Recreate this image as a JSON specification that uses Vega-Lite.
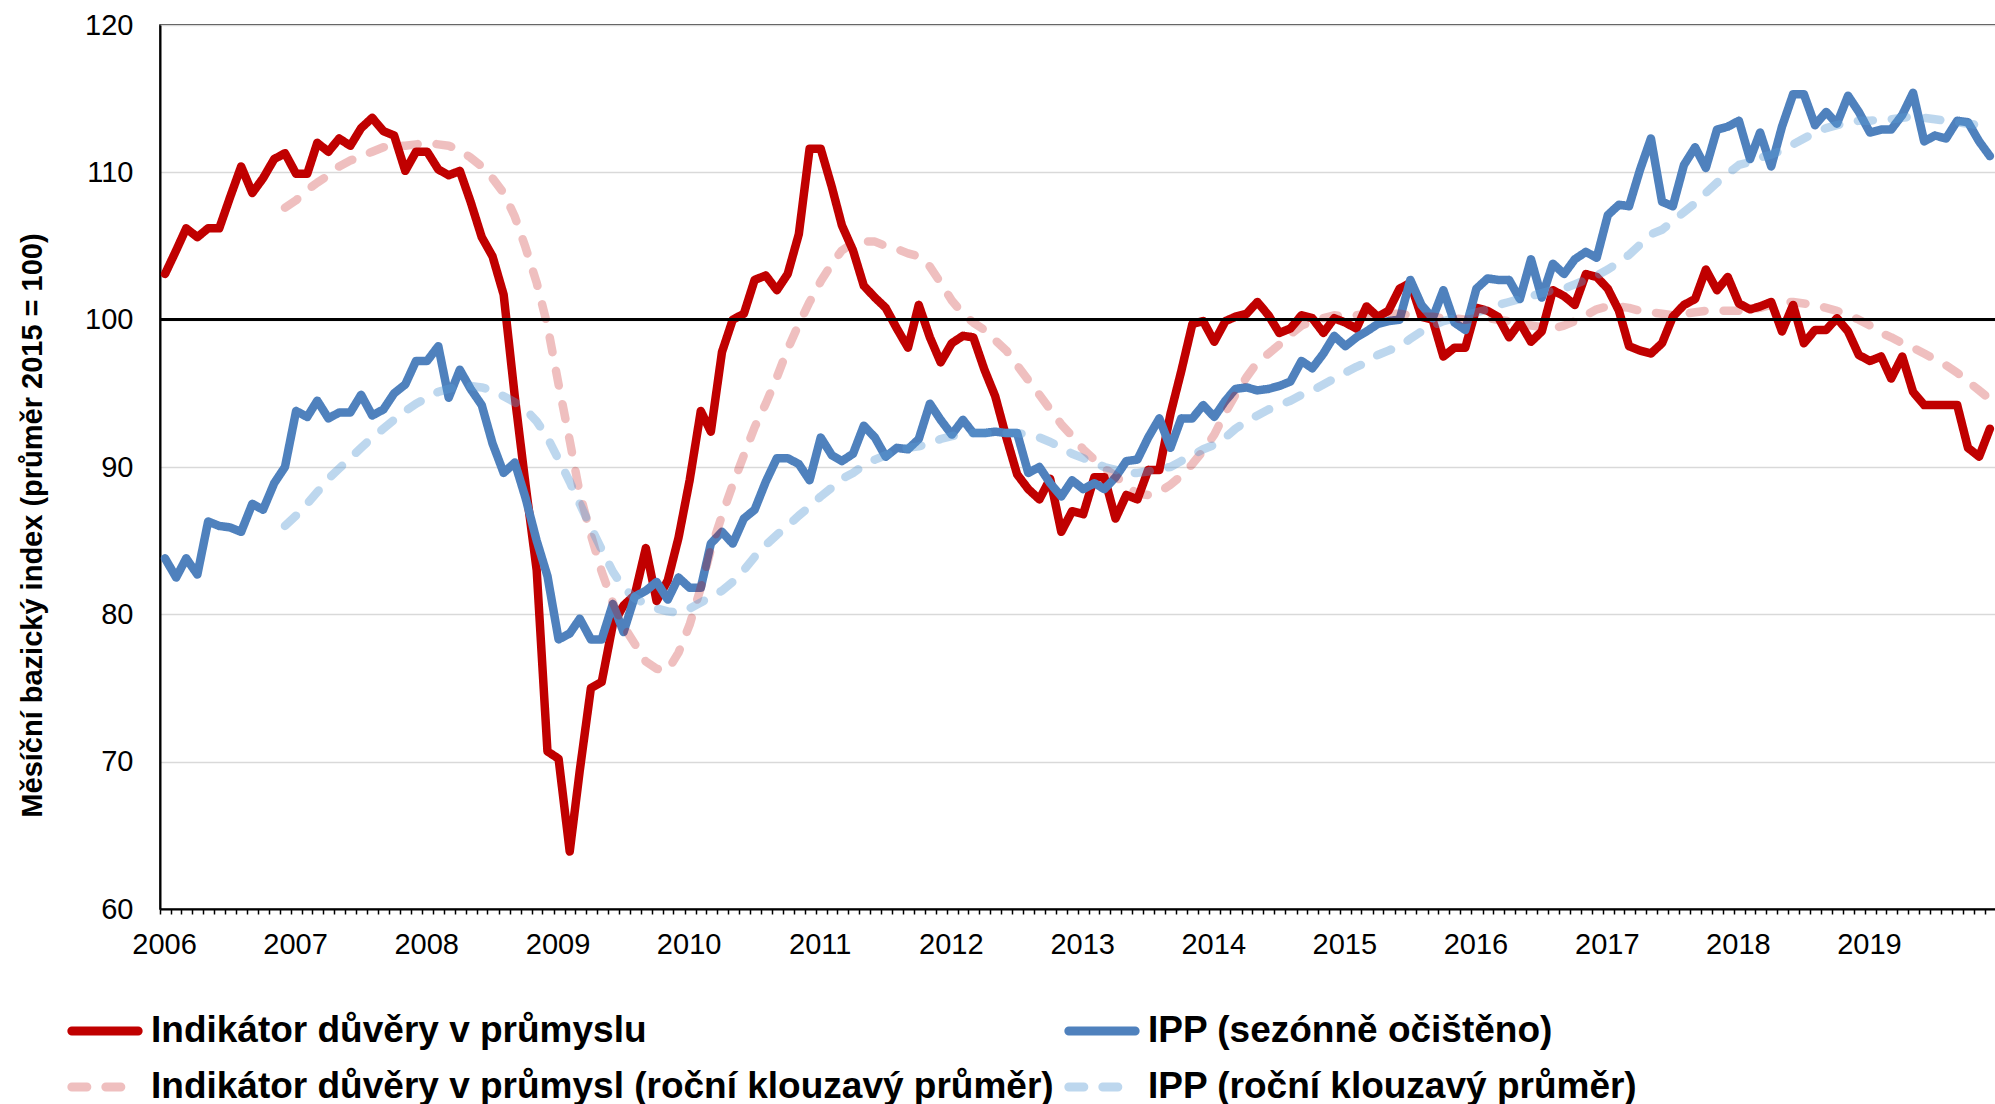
{
"$schema":"https://vega.github.io/schema/vega-lite/v6.json",
"width":1836,"height":884,
"autosize":{"type":"none"},
"padding":{"left":160,"top":25,"right":0,"bottom":195},
"background":"white",
"config":{
 "font":"Liberation Sans",
 "view":{"stroke":"#000","strokeWidth":1.5},
 "legend":{"symbolType":"stroke","symbolSize":4400,"symbolStrokeWidth":9,"labelFontSize":37,"labelFontWeight":"bold","labelFont":"Liberation Sans","labelColor":"#000","labelLimit":2000,"labelOffset":8,"columnPadding":-4,"rowPadding":0,"padding":0,"direction":"horizontal"}
},
"data":{"values":[
{"d":"2006-01-15","s":"A","v":103.1},{"d":"2006-02-15","s":"A","v":104.7},{"d":"2006-03-15","s":"A","v":106.2},{"d":"2006-04-15","s":"A","v":105.6},{"d":"2006-05-15","s":"A","v":106.2},{"d":"2006-06-15","s":"A","v":106.2},{"d":"2006-07-15","s":"A","v":108.3},{"d":"2006-08-15","s":"A","v":110.4},{"d":"2006-09-15","s":"A","v":108.6},{"d":"2006-10-15","s":"A","v":109.6},{"d":"2006-11-15","s":"A","v":110.9},{"d":"2006-12-15","s":"A","v":111.3},
{"d":"2007-01-15","s":"A","v":109.9},{"d":"2007-02-15","s":"A","v":109.9},{"d":"2007-03-15","s":"A","v":112.0},{"d":"2007-04-15","s":"A","v":111.4},{"d":"2007-05-15","s":"A","v":112.3},{"d":"2007-06-15","s":"A","v":111.8},{"d":"2007-07-15","s":"A","v":113.0},{"d":"2007-08-15","s":"A","v":113.7},{"d":"2007-09-15","s":"A","v":112.8},{"d":"2007-10-15","s":"A","v":112.5},{"d":"2007-11-15","s":"A","v":110.1},{"d":"2007-12-15","s":"A","v":111.4},
{"d":"2008-01-15","s":"A","v":111.4},{"d":"2008-02-15","s":"A","v":110.2},{"d":"2008-03-15","s":"A","v":109.8},{"d":"2008-04-15","s":"A","v":110.1},{"d":"2008-05-15","s":"A","v":108.0},{"d":"2008-06-15","s":"A","v":105.6},{"d":"2008-07-15","s":"A","v":104.3},{"d":"2008-08-15","s":"A","v":101.7},{"d":"2008-09-15","s":"A","v":94.8},{"d":"2008-10-15","s":"A","v":88.8},{"d":"2008-11-15","s":"A","v":83.0},{"d":"2008-12-15","s":"A","v":70.7},
{"d":"2009-01-15","s":"A","v":70.2},{"d":"2009-02-15","s":"A","v":63.9},{"d":"2009-03-15","s":"A","v":69.4},{"d":"2009-04-15","s":"A","v":75.0},{"d":"2009-05-15","s":"A","v":75.4},{"d":"2009-06-15","s":"A","v":79.3},{"d":"2009-07-15","s":"A","v":80.6},{"d":"2009-08-15","s":"A","v":81.3},{"d":"2009-09-15","s":"A","v":84.5},{"d":"2009-10-15","s":"A","v":80.9},{"d":"2009-11-15","s":"A","v":82.3},{"d":"2009-12-15","s":"A","v":85.2},
{"d":"2010-01-15","s":"A","v":89.1},{"d":"2010-02-15","s":"A","v":93.8},{"d":"2010-03-15","s":"A","v":92.4},{"d":"2010-04-15","s":"A","v":97.8},{"d":"2010-05-15","s":"A","v":100.0},{"d":"2010-06-15","s":"A","v":100.4},{"d":"2010-07-15","s":"A","v":102.7},{"d":"2010-08-15","s":"A","v":103.0},{"d":"2010-09-15","s":"A","v":102.0},{"d":"2010-10-15","s":"A","v":103.1},{"d":"2010-11-15","s":"A","v":105.8},{"d":"2010-12-15","s":"A","v":111.6},
{"d":"2011-01-15","s":"A","v":111.6},{"d":"2011-02-15","s":"A","v":109.0},{"d":"2011-03-15","s":"A","v":106.4},{"d":"2011-04-15","s":"A","v":104.7},{"d":"2011-05-15","s":"A","v":102.3},{"d":"2011-06-15","s":"A","v":101.5},{"d":"2011-07-15","s":"A","v":100.8},{"d":"2011-08-15","s":"A","v":99.4},{"d":"2011-09-15","s":"A","v":98.1},{"d":"2011-10-15","s":"A","v":101.0},{"d":"2011-11-15","s":"A","v":98.8},{"d":"2011-12-15","s":"A","v":97.1},
{"d":"2012-01-15","s":"A","v":98.4},{"d":"2012-02-15","s":"A","v":98.9},{"d":"2012-03-15","s":"A","v":98.8},{"d":"2012-04-15","s":"A","v":96.6},{"d":"2012-05-15","s":"A","v":94.8},{"d":"2012-06-15","s":"A","v":92.0},{"d":"2012-07-15","s":"A","v":89.5},{"d":"2012-08-15","s":"A","v":88.5},{"d":"2012-09-15","s":"A","v":87.8},{"d":"2012-10-15","s":"A","v":89.2},{"d":"2012-11-15","s":"A","v":85.6},{"d":"2012-12-15","s":"A","v":87.0},
{"d":"2013-01-15","s":"A","v":86.8},{"d":"2013-02-15","s":"A","v":89.3},{"d":"2013-03-15","s":"A","v":89.3},{"d":"2013-04-15","s":"A","v":86.5},{"d":"2013-05-15","s":"A","v":88.1},{"d":"2013-06-15","s":"A","v":87.8},{"d":"2013-07-15","s":"A","v":89.8},{"d":"2013-08-15","s":"A","v":89.8},{"d":"2013-09-15","s":"A","v":93.6},{"d":"2013-10-15","s":"A","v":96.5},{"d":"2013-11-15","s":"A","v":99.7},{"d":"2013-12-15","s":"A","v":99.9},
{"d":"2014-01-15","s":"A","v":98.5},{"d":"2014-02-15","s":"A","v":99.9},{"d":"2014-03-15","s":"A","v":100.2},{"d":"2014-04-15","s":"A","v":100.4},{"d":"2014-05-15","s":"A","v":101.2},{"d":"2014-06-15","s":"A","v":100.3},{"d":"2014-07-15","s":"A","v":99.1},{"d":"2014-08-15","s":"A","v":99.4},{"d":"2014-09-15","s":"A","v":100.3},{"d":"2014-10-15","s":"A","v":100.1},{"d":"2014-11-15","s":"A","v":99.1},{"d":"2014-12-15","s":"A","v":100.1},
{"d":"2015-01-15","s":"A","v":99.8},{"d":"2015-02-15","s":"A","v":99.4},{"d":"2015-03-15","s":"A","v":100.9},{"d":"2015-04-15","s":"A","v":100.2},{"d":"2015-05-15","s":"A","v":100.6},{"d":"2015-06-15","s":"A","v":102.1},{"d":"2015-07-15","s":"A","v":102.5},{"d":"2015-08-15","s":"A","v":100.2},{"d":"2015-09-15","s":"A","v":100.0},{"d":"2015-10-15","s":"A","v":97.5},{"d":"2015-11-15","s":"A","v":98.1},{"d":"2015-12-15","s":"A","v":98.1},
{"d":"2016-01-15","s":"A","v":100.8},{"d":"2016-02-15","s":"A","v":100.6},{"d":"2016-03-15","s":"A","v":100.2},{"d":"2016-04-15","s":"A","v":98.8},{"d":"2016-05-15","s":"A","v":99.8},{"d":"2016-06-15","s":"A","v":98.5},{"d":"2016-07-15","s":"A","v":99.2},{"d":"2016-08-15","s":"A","v":102.0},{"d":"2016-09-15","s":"A","v":101.6},{"d":"2016-10-15","s":"A","v":101.0},{"d":"2016-11-15","s":"A","v":103.1},{"d":"2016-12-15","s":"A","v":102.9},
{"d":"2017-01-15","s":"A","v":102.1},{"d":"2017-02-15","s":"A","v":100.6},{"d":"2017-03-15","s":"A","v":98.2},{"d":"2017-04-15","s":"A","v":97.9},{"d":"2017-05-15","s":"A","v":97.7},{"d":"2017-06-15","s":"A","v":98.4},{"d":"2017-07-15","s":"A","v":100.2},{"d":"2017-08-15","s":"A","v":101.0},{"d":"2017-09-15","s":"A","v":101.4},{"d":"2017-10-15","s":"A","v":103.4},{"d":"2017-11-15","s":"A","v":102.0},{"d":"2017-12-15","s":"A","v":102.9},
{"d":"2018-01-15","s":"A","v":101.1},{"d":"2018-02-15","s":"A","v":100.7},{"d":"2018-03-15","s":"A","v":100.9},{"d":"2018-04-15","s":"A","v":101.2},{"d":"2018-05-15","s":"A","v":99.2},{"d":"2018-06-15","s":"A","v":101.0},{"d":"2018-07-15","s":"A","v":98.4},{"d":"2018-08-15","s":"A","v":99.3},{"d":"2018-09-15","s":"A","v":99.3},{"d":"2018-10-15","s":"A","v":100.1},{"d":"2018-11-15","s":"A","v":99.2},{"d":"2018-12-15","s":"A","v":97.6},
{"d":"2019-01-15","s":"A","v":97.2},{"d":"2019-02-15","s":"A","v":97.5},{"d":"2019-03-15","s":"A","v":96.0},{"d":"2019-04-15","s":"A","v":97.5},{"d":"2019-05-15","s":"A","v":95.1},{"d":"2019-06-15","s":"A","v":94.2},{"d":"2019-07-15","s":"A","v":94.2},{"d":"2019-08-15","s":"A","v":94.2},{"d":"2019-09-15","s":"A","v":94.2},{"d":"2019-10-15","s":"A","v":91.3},{"d":"2019-11-15","s":"A","v":90.7},{"d":"2019-12-15","s":"A","v":92.6},
{"d":"2006-01-15","s":"B","v":83.8},{"d":"2006-02-15","s":"B","v":82.5},{"d":"2006-03-15","s":"B","v":83.8},{"d":"2006-04-15","s":"B","v":82.7},{"d":"2006-05-15","s":"B","v":86.3},{"d":"2006-06-15","s":"B","v":86.0},{"d":"2006-07-15","s":"B","v":85.9},{"d":"2006-08-15","s":"B","v":85.6},{"d":"2006-09-15","s":"B","v":87.5},{"d":"2006-10-15","s":"B","v":87.1},{"d":"2006-11-15","s":"B","v":88.9},{"d":"2006-12-15","s":"B","v":90.0},
{"d":"2007-01-15","s":"B","v":93.8},{"d":"2007-02-15","s":"B","v":93.4},{"d":"2007-03-15","s":"B","v":94.5},{"d":"2007-04-15","s":"B","v":93.3},{"d":"2007-05-15","s":"B","v":93.7},{"d":"2007-06-15","s":"B","v":93.7},{"d":"2007-07-15","s":"B","v":94.9},{"d":"2007-08-15","s":"B","v":93.5},{"d":"2007-09-15","s":"B","v":93.9},{"d":"2007-10-15","s":"B","v":95.0},{"d":"2007-11-15","s":"B","v":95.6},{"d":"2007-12-15","s":"B","v":97.2},
{"d":"2008-01-15","s":"B","v":97.2},{"d":"2008-02-15","s":"B","v":98.2},{"d":"2008-03-15","s":"B","v":94.7},{"d":"2008-04-15","s":"B","v":96.6},{"d":"2008-05-15","s":"B","v":95.3},{"d":"2008-06-15","s":"B","v":94.2},{"d":"2008-07-15","s":"B","v":91.6},{"d":"2008-08-15","s":"B","v":89.6},{"d":"2008-09-15","s":"B","v":90.3},{"d":"2008-10-15","s":"B","v":87.9},{"d":"2008-11-15","s":"B","v":85.0},{"d":"2008-12-15","s":"B","v":82.6},
{"d":"2009-01-15","s":"B","v":78.3},{"d":"2009-02-15","s":"B","v":78.7},{"d":"2009-03-15","s":"B","v":79.7},{"d":"2009-04-15","s":"B","v":78.3},{"d":"2009-05-15","s":"B","v":78.3},{"d":"2009-06-15","s":"B","v":80.7},{"d":"2009-07-15","s":"B","v":78.8},{"d":"2009-08-15","s":"B","v":81.2},{"d":"2009-09-15","s":"B","v":81.6},{"d":"2009-10-15","s":"B","v":82.2},{"d":"2009-11-15","s":"B","v":81.0},{"d":"2009-12-15","s":"B","v":82.5},
{"d":"2010-01-15","s":"B","v":81.8},{"d":"2010-02-15","s":"B","v":81.8},{"d":"2010-03-15","s":"B","v":84.8},{"d":"2010-04-15","s":"B","v":85.6},{"d":"2010-05-15","s":"B","v":84.8},{"d":"2010-06-15","s":"B","v":86.5},{"d":"2010-07-15","s":"B","v":87.1},{"d":"2010-08-15","s":"B","v":89.0},{"d":"2010-09-15","s":"B","v":90.6},{"d":"2010-10-15","s":"B","v":90.6},{"d":"2010-11-15","s":"B","v":90.2},{"d":"2010-12-15","s":"B","v":89.1},
{"d":"2011-01-15","s":"B","v":92.0},{"d":"2011-02-15","s":"B","v":90.8},{"d":"2011-03-15","s":"B","v":90.4},{"d":"2011-04-15","s":"B","v":90.9},{"d":"2011-05-15","s":"B","v":92.8},{"d":"2011-06-15","s":"B","v":92.0},{"d":"2011-07-15","s":"B","v":90.7},{"d":"2011-08-15","s":"B","v":91.3},{"d":"2011-09-15","s":"B","v":91.2},{"d":"2011-10-15","s":"B","v":91.9},{"d":"2011-11-15","s":"B","v":94.3},{"d":"2011-12-15","s":"B","v":93.2},
{"d":"2012-01-15","s":"B","v":92.2},{"d":"2012-02-15","s":"B","v":93.2},{"d":"2012-03-15","s":"B","v":92.3},{"d":"2012-04-15","s":"B","v":92.3},{"d":"2012-05-15","s":"B","v":92.4},{"d":"2012-06-15","s":"B","v":92.3},{"d":"2012-07-15","s":"B","v":92.3},{"d":"2012-08-15","s":"B","v":89.6},{"d":"2012-09-15","s":"B","v":90.0},{"d":"2012-10-15","s":"B","v":88.9},{"d":"2012-11-15","s":"B","v":88.0},{"d":"2012-12-15","s":"B","v":89.1},
{"d":"2013-01-15","s":"B","v":88.5},{"d":"2013-02-15","s":"B","v":88.9},{"d":"2013-03-15","s":"B","v":88.5},{"d":"2013-04-15","s":"B","v":89.3},{"d":"2013-05-15","s":"B","v":90.4},{"d":"2013-06-15","s":"B","v":90.5},{"d":"2013-07-15","s":"B","v":92.0},{"d":"2013-08-15","s":"B","v":93.3},{"d":"2013-09-15","s":"B","v":91.3},{"d":"2013-10-15","s":"B","v":93.3},{"d":"2013-11-15","s":"B","v":93.3},{"d":"2013-12-15","s":"B","v":94.2},
{"d":"2014-01-15","s":"B","v":93.4},{"d":"2014-02-15","s":"B","v":94.5},{"d":"2014-03-15","s":"B","v":95.3},{"d":"2014-04-15","s":"B","v":95.4},{"d":"2014-05-15","s":"B","v":95.2},{"d":"2014-06-15","s":"B","v":95.3},{"d":"2014-07-15","s":"B","v":95.5},{"d":"2014-08-15","s":"B","v":95.8},{"d":"2014-09-15","s":"B","v":97.2},{"d":"2014-10-15","s":"B","v":96.7},{"d":"2014-11-15","s":"B","v":97.7},{"d":"2014-12-15","s":"B","v":98.9},
{"d":"2015-01-15","s":"B","v":98.2},{"d":"2015-02-15","s":"B","v":98.8},{"d":"2015-03-15","s":"B","v":99.2},{"d":"2015-04-15","s":"B","v":99.7},{"d":"2015-05-15","s":"B","v":99.9},{"d":"2015-06-15","s":"B","v":100.0},{"d":"2015-07-15","s":"B","v":102.7},{"d":"2015-08-15","s":"B","v":101.0},{"d":"2015-09-15","s":"B","v":100.1},{"d":"2015-10-15","s":"B","v":102.0},{"d":"2015-11-15","s":"B","v":99.8},{"d":"2015-12-15","s":"B","v":99.3},
{"d":"2016-01-15","s":"B","v":102.1},{"d":"2016-02-15","s":"B","v":102.8},{"d":"2016-03-15","s":"B","v":102.7},{"d":"2016-04-15","s":"B","v":102.7},{"d":"2016-05-15","s":"B","v":101.4},{"d":"2016-06-15","s":"B","v":104.1},{"d":"2016-07-15","s":"B","v":101.5},{"d":"2016-08-15","s":"B","v":103.8},{"d":"2016-09-15","s":"B","v":103.1},{"d":"2016-10-15","s":"B","v":104.1},{"d":"2016-11-15","s":"B","v":104.6},{"d":"2016-12-15","s":"B","v":104.2},
{"d":"2017-01-15","s":"B","v":107.1},{"d":"2017-02-15","s":"B","v":107.8},{"d":"2017-03-15","s":"B","v":107.7},{"d":"2017-04-15","s":"B","v":110.2},{"d":"2017-05-15","s":"B","v":112.3},{"d":"2017-06-15","s":"B","v":108.0},{"d":"2017-07-15","s":"B","v":107.7},{"d":"2017-08-15","s":"B","v":110.5},{"d":"2017-09-15","s":"B","v":111.7},{"d":"2017-10-15","s":"B","v":110.3},{"d":"2017-11-15","s":"B","v":112.9},{"d":"2017-12-15","s":"B","v":113.1},
{"d":"2018-01-15","s":"B","v":113.5},{"d":"2018-02-15","s":"B","v":110.9},{"d":"2018-03-15","s":"B","v":112.7},{"d":"2018-04-15","s":"B","v":110.4},{"d":"2018-05-15","s":"B","v":113.1},{"d":"2018-06-15","s":"B","v":115.3},{"d":"2018-07-15","s":"B","v":115.3},{"d":"2018-08-15","s":"B","v":113.2},{"d":"2018-09-15","s":"B","v":114.1},{"d":"2018-10-15","s":"B","v":113.3},{"d":"2018-11-15","s":"B","v":115.2},{"d":"2018-12-15","s":"B","v":114.1},
{"d":"2019-01-15","s":"B","v":112.7},{"d":"2019-02-15","s":"B","v":112.9},{"d":"2019-03-15","s":"B","v":112.9},{"d":"2019-04-15","s":"B","v":113.9},{"d":"2019-05-15","s":"B","v":115.4},{"d":"2019-06-15","s":"B","v":112.1},{"d":"2019-07-15","s":"B","v":112.5},{"d":"2019-08-15","s":"B","v":112.3},{"d":"2019-09-15","s":"B","v":113.5},{"d":"2019-10-15","s":"B","v":113.4},{"d":"2019-11-15","s":"B","v":112.1},{"d":"2019-12-15","s":"B","v":111.1},
{"d":"2006-12-15","s":"C","v":107.6},
{"d":"2007-01-15","s":"C","v":108.1},{"d":"2007-02-15","s":"C","v":108.8},{"d":"2007-03-15","s":"C","v":109.3},{"d":"2007-04-15","s":"C","v":109.8},{"d":"2007-05-15","s":"C","v":110.4},{"d":"2007-06-15","s":"C","v":110.8},{"d":"2007-07-15","s":"C","v":111.1},{"d":"2007-08-15","s":"C","v":111.4},{"d":"2007-09-15","s":"C","v":111.7},{"d":"2007-10-15","s":"C","v":111.8},{"d":"2007-11-15","s":"C","v":111.8},{"d":"2007-12-15","s":"C","v":111.9},
{"d":"2008-01-15","s":"C","v":112.0},{"d":"2008-02-15","s":"C","v":111.9},{"d":"2008-03-15","s":"C","v":111.8},{"d":"2008-04-15","s":"C","v":111.5},{"d":"2008-05-15","s":"C","v":111.0},{"d":"2008-06-15","s":"C","v":110.4},{"d":"2008-07-15","s":"C","v":109.6},{"d":"2008-08-15","s":"C","v":108.6},{"d":"2008-09-15","s":"C","v":107.0},{"d":"2008-10-15","s":"C","v":104.9},{"d":"2008-11-15","s":"C","v":102.5},{"d":"2008-12-15","s":"C","v":99.6},
{"d":"2009-01-15","s":"C","v":95.6},{"d":"2009-02-15","s":"C","v":91.8},{"d":"2009-03-15","s":"C","v":88.2},{"d":"2009-04-15","s":"C","v":85.4},{"d":"2009-05-15","s":"C","v":82.9},{"d":"2009-06-15","s":"C","v":80.8},{"d":"2009-07-15","s":"C","v":79.2},{"d":"2009-08-15","s":"C","v":78.0},{"d":"2009-09-15","s":"C","v":76.8},{"d":"2009-10-15","s":"C","v":76.3},{"d":"2009-11-15","s":"C","v":76.2},{"d":"2009-12-15","s":"C","v":77.4},
{"d":"2010-01-15","s":"C","v":79.3},{"d":"2010-02-15","s":"C","v":81.8},{"d":"2010-03-15","s":"C","v":84.4},{"d":"2010-04-15","s":"C","v":86.7},{"d":"2010-05-15","s":"C","v":88.8},{"d":"2010-06-15","s":"C","v":90.8},{"d":"2010-07-15","s":"C","v":92.7},{"d":"2010-08-15","s":"C","v":94.3},{"d":"2010-09-15","s":"C","v":96.1},{"d":"2010-10-15","s":"C","v":98.0},{"d":"2010-11-15","s":"C","v":99.7},{"d":"2010-12-15","s":"C","v":101.2},
{"d":"2011-01-15","s":"C","v":102.6},{"d":"2011-02-15","s":"C","v":103.8},{"d":"2011-03-15","s":"C","v":104.7},{"d":"2011-04-15","s":"C","v":105.2},{"d":"2011-05-15","s":"C","v":105.3},{"d":"2011-06-15","s":"C","v":105.3},{"d":"2011-07-15","s":"C","v":105.0},{"d":"2011-08-15","s":"C","v":104.8},{"d":"2011-09-15","s":"C","v":104.5},{"d":"2011-10-15","s":"C","v":104.3},{"d":"2011-11-15","s":"C","v":103.6},{"d":"2011-12-15","s":"C","v":102.5},
{"d":"2012-01-15","s":"C","v":101.3},{"d":"2012-02-15","s":"C","v":100.4},{"d":"2012-03-15","s":"C","v":99.8},{"d":"2012-04-15","s":"C","v":99.3},{"d":"2012-05-15","s":"C","v":98.6},{"d":"2012-06-15","s":"C","v":97.9},{"d":"2012-07-15","s":"C","v":96.9},{"d":"2012-08-15","s":"C","v":95.9},{"d":"2012-09-15","s":"C","v":94.9},{"d":"2012-10-15","s":"C","v":93.9},{"d":"2012-11-15","s":"C","v":92.9},{"d":"2012-12-15","s":"C","v":92.1},
{"d":"2013-01-15","s":"C","v":91.2},{"d":"2013-02-15","s":"C","v":90.5},{"d":"2013-03-15","s":"C","v":89.9},{"d":"2013-04-15","s":"C","v":89.4},{"d":"2013-05-15","s":"C","v":88.7},{"d":"2013-06-15","s":"C","v":88.2},{"d":"2013-07-15","s":"C","v":88.1},{"d":"2013-08-15","s":"C","v":88.3},{"d":"2013-09-15","s":"C","v":88.8},{"d":"2013-10-15","s":"C","v":89.4},{"d":"2013-11-15","s":"C","v":90.2},{"d":"2013-12-15","s":"C","v":91.1},
{"d":"2014-01-15","s":"C","v":92.2},{"d":"2014-02-15","s":"C","v":93.7},{"d":"2014-03-15","s":"C","v":94.9},{"d":"2014-04-15","s":"C","v":96.1},{"d":"2014-05-15","s":"C","v":97.1},{"d":"2014-06-15","s":"C","v":97.7},{"d":"2014-07-15","s":"C","v":98.3},{"d":"2014-08-15","s":"C","v":99.0},{"d":"2014-09-15","s":"C","v":99.6},{"d":"2014-10-15","s":"C","v":99.9},{"d":"2014-11-15","s":"C","v":100.1},{"d":"2014-12-15","s":"C","v":100.3},
{"d":"2015-01-15","s":"C","v":100.2},{"d":"2015-02-15","s":"C","v":100.3},{"d":"2015-03-15","s":"C","v":100.4},{"d":"2015-04-15","s":"C","v":100.4},{"d":"2015-05-15","s":"C","v":100.4},{"d":"2015-06-15","s":"C","v":100.4},{"d":"2015-07-15","s":"C","v":100.3},{"d":"2015-08-15","s":"C","v":100.2},{"d":"2015-09-15","s":"C","v":100.2},{"d":"2015-10-15","s":"C","v":100.1},{"d":"2015-11-15","s":"C","v":100.1},{"d":"2015-12-15","s":"C","v":100.0},
{"d":"2016-01-15","s":"C","v":100.1},{"d":"2016-02-15","s":"C","v":100.1},{"d":"2016-03-15","s":"C","v":100.0},{"d":"2016-04-15","s":"C","v":99.9},{"d":"2016-05-15","s":"C","v":99.7},{"d":"2016-06-15","s":"C","v":99.6},{"d":"2016-07-15","s":"C","v":99.5},{"d":"2016-08-15","s":"C","v":99.4},{"d":"2016-09-15","s":"C","v":99.6},{"d":"2016-10-15","s":"C","v":99.9},{"d":"2016-11-15","s":"C","v":100.3},{"d":"2016-12-15","s":"C","v":100.7},
{"d":"2017-01-15","s":"C","v":100.9},{"d":"2017-02-15","s":"C","v":100.9},{"d":"2017-03-15","s":"C","v":100.8},{"d":"2017-04-15","s":"C","v":100.6},{"d":"2017-05-15","s":"C","v":100.5},{"d":"2017-06-15","s":"C","v":100.4},{"d":"2017-07-15","s":"C","v":100.3},{"d":"2017-08-15","s":"C","v":100.4},{"d":"2017-09-15","s":"C","v":100.5},{"d":"2017-10-15","s":"C","v":100.6},{"d":"2017-11-15","s":"C","v":100.6},{"d":"2017-12-15","s":"C","v":100.6},
{"d":"2018-01-15","s":"C","v":100.6},{"d":"2018-02-15","s":"C","v":100.7},{"d":"2018-03-15","s":"C","v":100.8},{"d":"2018-04-15","s":"C","v":101.0},{"d":"2018-05-15","s":"C","v":101.2},{"d":"2018-06-15","s":"C","v":101.2},{"d":"2018-07-15","s":"C","v":101.1},{"d":"2018-08-15","s":"C","v":101.0},{"d":"2018-09-15","s":"C","v":100.8},{"d":"2018-10-15","s":"C","v":100.6},{"d":"2018-11-15","s":"C","v":100.3},{"d":"2018-12-15","s":"C","v":100.0},
{"d":"2019-01-15","s":"C","v":99.6},{"d":"2019-02-15","s":"C","v":99.1},{"d":"2019-03-15","s":"C","v":98.8},{"d":"2019-04-15","s":"C","v":98.4},{"d":"2019-05-15","s":"C","v":98.1},{"d":"2019-06-15","s":"C","v":97.7},{"d":"2019-07-15","s":"C","v":97.3},{"d":"2019-08-15","s":"C","v":96.9},{"d":"2019-09-15","s":"C","v":96.4},{"d":"2019-10-15","s":"C","v":95.8},{"d":"2019-11-15","s":"C","v":95.2},{"d":"2019-12-15","s":"C","v":94.6},
{"d":"2006-12-15","s":"D","v":86.0},
{"d":"2007-01-15","s":"D","v":86.7},{"d":"2007-02-15","s":"D","v":87.5},{"d":"2007-03-15","s":"D","v":88.3},{"d":"2007-04-15","s":"D","v":89.2},{"d":"2007-05-15","s":"D","v":89.9},{"d":"2007-06-15","s":"D","v":90.6},{"d":"2007-07-15","s":"D","v":91.3},{"d":"2007-08-15","s":"D","v":92.0},{"d":"2007-09-15","s":"D","v":92.6},{"d":"2007-10-15","s":"D","v":93.2},{"d":"2007-11-15","s":"D","v":93.8},{"d":"2007-12-15","s":"D","v":94.3},
{"d":"2008-01-15","s":"D","v":94.7},{"d":"2008-02-15","s":"D","v":95.1},{"d":"2008-03-15","s":"D","v":95.3},{"d":"2008-04-15","s":"D","v":95.5},{"d":"2008-05-15","s":"D","v":95.5},{"d":"2008-06-15","s":"D","v":95.4},{"d":"2008-07-15","s":"D","v":95.2},{"d":"2008-08-15","s":"D","v":94.8},{"d":"2008-09-15","s":"D","v":94.4},{"d":"2008-10-15","s":"D","v":93.9},{"d":"2008-11-15","s":"D","v":93.1},{"d":"2008-12-15","s":"D","v":92.0},
{"d":"2009-01-15","s":"D","v":90.5},{"d":"2009-02-15","s":"D","v":89.0},{"d":"2009-03-15","s":"D","v":87.5},{"d":"2009-04-15","s":"D","v":85.9},{"d":"2009-05-15","s":"D","v":84.4},{"d":"2009-06-15","s":"D","v":82.9},{"d":"2009-07-15","s":"D","v":81.8},{"d":"2009-08-15","s":"D","v":81.1},{"d":"2009-09-15","s":"D","v":80.7},{"d":"2009-10-15","s":"D","v":80.4},{"d":"2009-11-15","s":"D","v":80.2},{"d":"2009-12-15","s":"D","v":80.1},
{"d":"2010-01-15","s":"D","v":80.4},{"d":"2010-02-15","s":"D","v":80.8},{"d":"2010-03-15","s":"D","v":81.2},{"d":"2010-04-15","s":"D","v":81.6},{"d":"2010-05-15","s":"D","v":82.2},{"d":"2010-06-15","s":"D","v":83.0},{"d":"2010-07-15","s":"D","v":83.9},{"d":"2010-08-15","s":"D","v":84.7},{"d":"2010-09-15","s":"D","v":85.4},{"d":"2010-10-15","s":"D","v":86.0},{"d":"2010-11-15","s":"D","v":86.7},{"d":"2010-12-15","s":"D","v":87.3},
{"d":"2011-01-15","s":"D","v":88.0},{"d":"2011-02-15","s":"D","v":88.6},{"d":"2011-03-15","s":"D","v":89.2},{"d":"2011-04-15","s":"D","v":89.6},{"d":"2011-05-15","s":"D","v":90.1},{"d":"2011-06-15","s":"D","v":90.5},{"d":"2011-07-15","s":"D","v":90.8},{"d":"2011-08-15","s":"D","v":91.1},{"d":"2011-09-15","s":"D","v":91.3},{"d":"2011-10-15","s":"D","v":91.4},{"d":"2011-11-15","s":"D","v":91.6},{"d":"2011-12-15","s":"D","v":91.9},
{"d":"2012-01-15","s":"D","v":92.1},{"d":"2012-02-15","s":"D","v":92.2},{"d":"2012-03-15","s":"D","v":92.3},{"d":"2012-04-15","s":"D","v":92.3},{"d":"2012-05-15","s":"D","v":92.3},{"d":"2012-06-15","s":"D","v":92.3},{"d":"2012-07-15","s":"D","v":92.3},{"d":"2012-08-15","s":"D","v":92.2},{"d":"2012-09-15","s":"D","v":92.0},{"d":"2012-10-15","s":"D","v":91.7},{"d":"2012-11-15","s":"D","v":91.3},{"d":"2012-12-15","s":"D","v":90.9},
{"d":"2013-01-15","s":"D","v":90.6},{"d":"2013-02-15","s":"D","v":90.3},{"d":"2013-03-15","s":"D","v":90.0},{"d":"2013-04-15","s":"D","v":89.8},{"d":"2013-05-15","s":"D","v":89.6},{"d":"2013-06-15","s":"D","v":89.6},{"d":"2013-07-15","s":"D","v":89.7},{"d":"2013-08-15","s":"D","v":89.9},{"d":"2013-09-15","s":"D","v":90.0},{"d":"2013-10-15","s":"D","v":90.4},{"d":"2013-11-15","s":"D","v":90.8},{"d":"2013-12-15","s":"D","v":91.2},
{"d":"2014-01-15","s":"D","v":91.5},{"d":"2014-02-15","s":"D","v":92.0},{"d":"2014-03-15","s":"D","v":92.6},{"d":"2014-04-15","s":"D","v":93.1},{"d":"2014-05-15","s":"D","v":93.5},{"d":"2014-06-15","s":"D","v":93.9},{"d":"2014-07-15","s":"D","v":94.2},{"d":"2014-08-15","s":"D","v":94.5},{"d":"2014-09-15","s":"D","v":94.9},{"d":"2014-10-15","s":"D","v":95.2},{"d":"2014-11-15","s":"D","v":95.6},{"d":"2014-12-15","s":"D","v":96.0},
{"d":"2015-01-15","s":"D","v":96.4},{"d":"2015-02-15","s":"D","v":96.8},{"d":"2015-03-15","s":"D","v":97.1},{"d":"2015-04-15","s":"D","v":97.6},{"d":"2015-05-15","s":"D","v":97.9},{"d":"2015-06-15","s":"D","v":98.2},{"d":"2015-07-15","s":"D","v":98.7},{"d":"2015-08-15","s":"D","v":99.2},{"d":"2015-09-15","s":"D","v":99.6},{"d":"2015-10-15","s":"D","v":99.9},{"d":"2015-11-15","s":"D","v":100.1},{"d":"2015-12-15","s":"D","v":100.3},
{"d":"2016-01-15","s":"D","v":100.5},{"d":"2016-02-15","s":"D","v":100.7},{"d":"2016-03-15","s":"D","v":101.0},{"d":"2016-04-15","s":"D","v":101.2},{"d":"2016-05-15","s":"D","v":101.4},{"d":"2016-06-15","s":"D","v":101.6},{"d":"2016-07-15","s":"D","v":101.8},{"d":"2016-08-15","s":"D","v":102.0},{"d":"2016-09-15","s":"D","v":102.1},{"d":"2016-10-15","s":"D","v":102.4},{"d":"2016-11-15","s":"D","v":102.7},{"d":"2016-12-15","s":"D","v":103.0},
{"d":"2017-01-15","s":"D","v":103.4},{"d":"2017-02-15","s":"D","v":103.9},{"d":"2017-03-15","s":"D","v":104.4},{"d":"2017-04-15","s":"D","v":105.1},{"d":"2017-05-15","s":"D","v":105.8},{"d":"2017-06-15","s":"D","v":106.1},{"d":"2017-07-15","s":"D","v":106.7},{"d":"2017-08-15","s":"D","v":107.3},{"d":"2017-09-15","s":"D","v":107.9},{"d":"2017-10-15","s":"D","v":108.6},{"d":"2017-11-15","s":"D","v":109.3},{"d":"2017-12-15","s":"D","v":109.9},
{"d":"2018-01-15","s":"D","v":110.5},{"d":"2018-02-15","s":"D","v":110.7},{"d":"2018-03-15","s":"D","v":111.0},{"d":"2018-04-15","s":"D","v":111.2},{"d":"2018-05-15","s":"D","v":111.5},{"d":"2018-06-15","s":"D","v":111.9},{"d":"2018-07-15","s":"D","v":112.3},{"d":"2018-08-15","s":"D","v":112.7},{"d":"2018-09-15","s":"D","v":113.0},{"d":"2018-10-15","s":"D","v":113.2},{"d":"2018-11-15","s":"D","v":113.4},{"d":"2018-12-15","s":"D","v":113.5},
{"d":"2019-01-15","s":"D","v":113.5},{"d":"2019-02-15","s":"D","v":113.6},{"d":"2019-03-15","s":"D","v":113.6},{"d":"2019-04-15","s":"D","v":113.7},{"d":"2019-05-15","s":"D","v":113.8},{"d":"2019-06-15","s":"D","v":113.7},{"d":"2019-07-15","s":"D","v":113.6},{"d":"2019-08-15","s":"D","v":113.5},{"d":"2019-09-15","s":"D","v":113.4},{"d":"2019-10-15","s":"D","v":113.3},{"d":"2019-11-15","s":"D","v":113.2},{"d":"2019-12-15","s":"D","v":113.1}
]},
"layer":[
{"mark":{"type":"line","strokeWidth":8.5,"strokeCap":"round","strokeJoin":"round"},
 "encoding":{
  "x":{"field":"d","type":"temporal","scale":{"type":"utc","domain":[{"year":2006,"month":1,"date":1,"utc":true},{"year":2020,"month":1,"date":1,"utc":true}]},
   "axis":{"title":null,"grid":false,"tickCount":{"interval":"month","step":1},"labelExpr":"utcmonth(datum.value) == 0 && utcyear(datum.value) < 2020 ? utcFormat(datum.value, '%Y') : ''","labelOverlap":false,"labelFlush":false,"labelBound":false,"labelFont":"Liberation Sans","labelFontSize":29,"labelColor":"#000","labelPadding":16,"labelOffset":4,"tickSize":5,"tickWidth":1.5,"tickColor":"#000","domainColor":"#000","domainWidth":2}},
  "y":{"field":"v","type":"quantitative","scale":{"domain":[60,120],"nice":false,"zero":false},
   "axis":{"title":"Měsíční bazický index (průměr 2015 = 100)","values":[60,70,80,90,100,110,120],"grid":true,"gridColor":"#D9D9D9","gridWidth":1.5,"ticks":false,"labelPadding":27,"labelFont":"Liberation Sans","labelFontSize":29,"labelColor":"#000","domainColor":"#000","domainWidth":2,"titleFont":"Liberation Sans","titleFontSize":29,"titleFontWeight":"bold","titleColor":"#000","titleX":-128,"titleY":500,"titleAngle":-90,"titleAlign":"center","titleBaseline":"middle"}},
  "color":{"field":"s","type":"nominal","scale":{"domain":["A","B","C","D"],"range":["#C00000","#4F81BD","rgba(192,0,0,0.25)","rgba(91,155,213,0.4)"]},
   "legend":{"title":null,"orient":"none","legendX":-93,"legendY":968,"columns":2,"direction":"horizontal","labelExpr":"datum.label == 'A' ? 'Indikátor důvěry v průmyslu' : datum.label == 'B' ? 'IPP (sezónně očištěno)' : datum.label == 'C' ? 'Indikátor důvěry v průmysl (roční klouzavý průměr)' : 'IPP (roční klouzavý průměr)'","encode":{"symbols":{"update":{"strokeCap":{"value":"round"}}}}}},
  "strokeDash":{"field":"s","type":"nominal","scale":{"domain":["A","B","C","D"],"range":[[1,0],[1,0],[15,19],[15,19]]},
   "legend":{"title":null,"orient":"none","legendX":-93,"legendY":968,"columns":2,"direction":"horizontal","labelExpr":"datum.label == 'A' ? 'Indikátor důvěry v průmyslu' : datum.label == 'B' ? 'IPP (sezónně očištěno)' : datum.label == 'C' ? 'Indikátor důvěry v průmysl (roční klouzavý průměr)' : 'IPP (roční klouzavý průměr)'","encode":{"symbols":{"update":{"strokeCap":{"value":"round"}}}}}}
 }},
{"mark":{"type":"rule","color":"#000","strokeWidth":2.5},"encoding":{"y":{"datum":100}}}
]
}
